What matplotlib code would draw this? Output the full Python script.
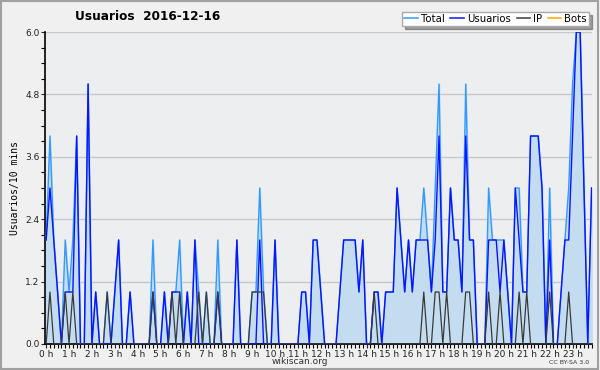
import numpy as np
import matplotlib
matplotlib.use("Agg")
import matplotlib.pyplot as plt
from matplotlib.ticker import MultipleLocator, FixedLocator

# valores cada 10 minutos (144 puntos)
usuarios = [2, 3, 2, 1, 0, 1, 1, 1, 4, 0, 0, 5, 0, 1, 0, 0, 0, 0, 1, 2, 0, 0, 1, 0,
            0, 0, 0, 0, 1, 0, 0, 1, 0, 1, 1, 1, 0, 1, 0, 2, 0, 0, 0, 0, 0, 1, 0, 0,
            0, 0, 2, 0, 0, 0, 0, 0, 2, 0, 0, 0, 2, 0, 0, 0, 0, 0, 0, 1, 1, 0, 2, 2,
            1, 0, 0, 0, 0, 1, 2, 2, 2, 2, 1, 2, 0, 0, 1, 1, 0, 1, 1, 1, 3, 2, 1, 2,
            1, 2, 2, 2, 2, 1, 2, 4, 1, 1, 3, 2, 2, 1, 4, 2, 2, 0, 0, 0, 2, 2, 2, 1,
            2, 1, 0, 3, 2, 1, 1, 4, 4, 4, 3, 0, 2, 0, 0, 1, 2, 2, 4, 6, 6, 3, 0, 3]
ip = [0, 1, 0, 0, 0, 1, 0, 1, 0, 0, 0, 0, 0, 0, 0, 0, 1, 0, 0, 0, 0, 0, 0, 0,
      0, 0, 0, 0, 1, 0, 0, 0, 0, 1, 0, 1, 0, 0, 0, 0, 1, 0, 1, 0, 0, 1, 0, 0,
      0, 0, 0, 0, 0, 0, 1, 1, 1, 1, 0, 0, 0, 0, 0, 0, 0, 0, 0, 0, 0, 0, 0, 0,
      0, 0, 0, 0, 0, 0, 0, 0, 0, 0, 0, 0, 0, 0, 1, 0, 0, 0, 0, 0, 0, 0, 0, 0,
      0, 0, 0, 1, 0, 0, 1, 1, 0, 1, 0, 0, 0, 0, 1, 1, 0, 0, 0, 0, 1, 0, 0, 1,
      0, 0, 0, 0, 1, 0, 1, 0, 0, 0, 0, 0, 1, 0, 0, 0, 0, 1, 0, 0, 0, 0, 0, 0]
total = [2, 4, 2, 1, 0, 2, 1, 2, 4, 0, 0, 5, 0, 1, 0, 0, 1, 0, 1, 2, 0, 0, 1, 0,
         0, 0, 0, 0, 2, 0, 0, 1, 0, 1, 1, 2, 0, 1, 0, 2, 1, 0, 1, 0, 0, 2, 0, 0,
         0, 0, 2, 0, 0, 0, 1, 1, 3, 1, 0, 0, 2, 0, 0, 0, 0, 0, 0, 1, 1, 0, 2, 2,
         1, 0, 0, 0, 0, 1, 2, 2, 2, 2, 1, 2, 0, 0, 1, 1, 0, 1, 1, 1, 3, 2, 1, 2,
         1, 2, 2, 3, 2, 1, 3, 5, 1, 1, 3, 2, 2, 1, 5, 2, 2, 0, 0, 0, 3, 2, 2, 2,
         2, 1, 0, 3, 3, 1, 1, 4, 4, 4, 3, 0, 3, 0, 0, 1, 2, 3, 5, 6, 6, 3, 0, 3]
bots = [0] * 144
horas = [f"{h} h" for h in range(24)]

x = np.arange(len(total))

fig = plt.figure(figsize=(6, 3.7), dpi=100, facecolor="#f0f0f0")
ax = fig.add_axes([0.075, 0.0703, 0.911, 0.8432])
ax.set_facecolor("#eceef0")

ax.fill_between(x, total, color="#c4dcf0", zorder=1)
ax.plot(x, bots, color="#ffa500", lw=1, zorder=2)
ax.plot(x, total, color="#3399ff", lw=1.0, zorder=3)
ax.plot(x, usuarios, color="#0a14ff", lw=1.0, zorder=4)
ax.plot(x, ip, color="#3a3a3a", lw=0.9, zorder=5)

ax.set_xlim(-0.3, 143)
ax.set_ylim(0, 6)
ax.yaxis.set_major_locator(FixedLocator([0, 1.2, 2.4, 3.6, 4.8, 6.0]))
ax.yaxis.set_minor_locator(MultipleLocator(0.3))
ax.set_yticklabels(["0.0", "1.2", "2.4", "3.6", "4.8", "6.0"])
ax.set_xticks(np.arange(0, 144, 6))
ax.set_xticklabels(horas)
ax.xaxis.set_minor_locator(MultipleLocator(1))
ax.tick_params(axis="both", labelsize=6.5, length=3, width=0.8, pad=1, colors="#222222")
ax.tick_params(axis="both", which="minor", length=3, width=0.8)
ax.grid(axis="y", color="#c8c8c8", lw=1, zorder=0)
ax.set_axisbelow(True)
for s in ["top", "right"]:
    ax.spines[s].set_visible(False)
for s in ["left", "bottom"]:
    ax.spines[s].set_linewidth(1.2)

ax.set_ylabel("Usuarios/10 mins", fontsize=7, family="DejaVu Sans Mono", labelpad=4)
fig.text(0.125, 0.955, "Usuarios  2016-12-16", fontsize=8.7, fontweight="bold", va="center")
fig.text(0.5, 0.022, "wikiscan.org", fontsize=6.5, ha="center", va="center", color="#333333")
fig.text(0.982, 0.02, "CC BY-SA 3.0", fontsize=4.5, ha="right", va="center", color="#333333")

handles = [plt.Line2D([], [], color=c, lw=1.1) for c in ["#3399ff", "#0a14ff", "#3a3a3a", "#ffa500"]]
leg = fig.legend(handles, ["Total", "Usuarios", "IP", "Bots"], loc="upper right",
                 bbox_to_anchor=(0.99, 0.982), ncol=4, fontsize=7.3, handlelength=1.3,
                 handletextpad=0.3, columnspacing=0.6, borderpad=0.2, fancybox=False,
                 shadow=True, framealpha=1, edgecolor="#aaaaaa")

fig.patches.append(plt.Rectangle((0.002, 0.003), 0.995, 0.993, transform=fig.transFigure,
                                 fill=False, edgecolor="#a0a0a0", lw=1.5))

fig.savefig("out.png", dpi=100, facecolor=fig.get_facecolor())
